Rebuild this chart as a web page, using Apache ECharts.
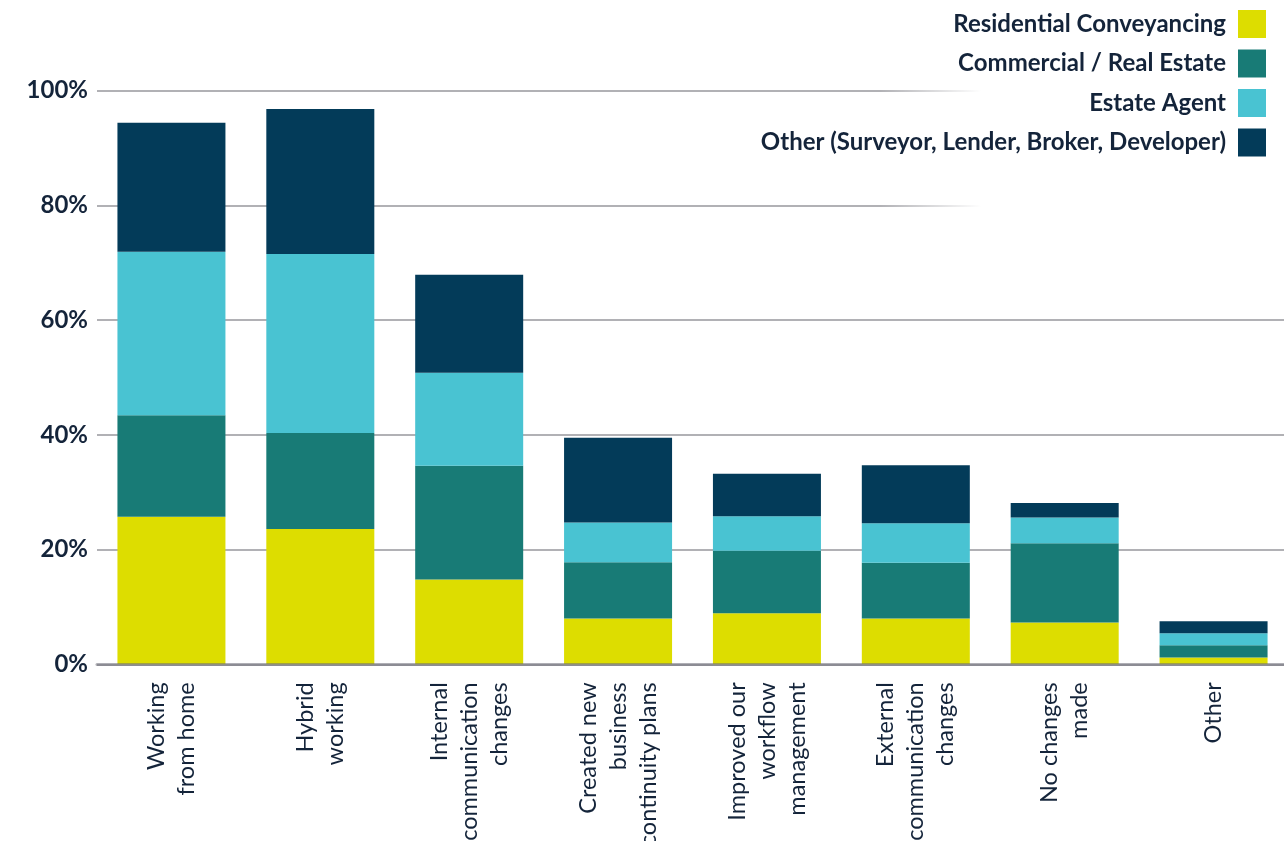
<!DOCTYPE html>
<html>
<head>
<meta charset="utf-8">
<script src="https://cdn.jsdelivr.net/npm/echarts@6/dist/echarts.min.js"></script>
<style>
  html, body { margin: 0; padding: 0; background: #ffffff; }
  #chart { width: 1284px; height: 841px; }
</style>
</head>
<body>
<div id="chart"></div>
<script>
// Changes made to working practices, share of respondents by sector (%)
const categories = [
  'Working\nfrom home',
  'Hybrid\nworking',
  'Internal\ncommunication\nchanges',
  'Created new\nbusiness\ncontinuity plans',
  'Improved our\nworkflow\nmanagement',
  'External\ncommunication\nchanges',
  'No changes\nmade',
  'Other'
];

const residentialConveyancing = [25.7, 23.6, 14.8, 8.0, 8.9, 8.0, 7.3, 1.2];
const commercialRealEstate    = [17.7, 16.7, 19.8, 9.8, 10.9, 9.7, 13.8, 2.1];
const estateAgent             = [28.5, 31.2, 16.2, 6.9, 6.0, 6.9, 4.5, 2.1];
const otherSectors            = [22.5, 25.3, 17.1, 14.8, 7.4, 10.1, 2.5, 2.1];

const seriesNames = [
  'Residential Conveyancing',
  'Commercial / Real Estate',
  'Estate Agent',
  'Other (Surveyor, Lender, Broker, Developer)'
];
const seriesColors = ['#dddd00', '#187b76', '#49c3d2', '#033b59'];
const seriesData = [residentialConveyancing, commercialRealEstate, estateAgent, otherSectors];

const yTicks = { min: 0, max: 100, interval: 20 };

const FONT = 'Lato, "Noto Sans", sans-serif';
const INK = '#14243a';

const chart = echarts.init(document.getElementById('chart'), null, { renderer: 'canvas' });

chart.setOption({
  backgroundColor: '#ffffff',
  animation: false,
  grid: {
    left: 97, top: 90.6, width: 1191, height: 573.7,
    containLabel: false,
    outerBoundsMode: 'none'
  },
  legend: {
    orient: 'vertical',
    right: 13,
    top: 5,
    align: 'right',
    icon: 'rect',
    itemWidth: 28,
    itemHeight: 28,
    itemGap: 11.5,
    z: 5,
    data: seriesNames,
    textStyle: {
      fontFamily: FONT,
      fontWeight: 'bold',
      fontSize: 24,
      color: INK,
      padding: [0, 7, 0, 0]
    }
  },
  // soft white panel behind the legend that fades the top gridlines out
  graphic: [{
    type: 'rect',
    z: 1,
    silent: true,
    shape: { x: 880, y: 78, width: 404, height: 140 },
    style: {
      fill: new echarts.graphic.LinearGradient(0, 0, 1, 0, [
        { offset: 0, color: 'rgba(255,255,255,0)' },
        { offset: 0.25, color: 'rgba(255,255,255,1)' },
        { offset: 1, color: 'rgba(255,255,255,1)' }
      ])
    }
  }],
  xAxis: {
    type: 'category',
    data: categories,
    z: 3,
    axisTick: { show: false },
    axisLine: { show: true, lineStyle: { color: 'rgba(110,110,120,0.55)', width: 3 } },
    axisLabel: {
      rotate: 90,
      interval: 0,
      margin: 18,
      align: 'right',
      fontFamily: FONT,
      fontSize: 23.5,
      lineHeight: 30,
      color: INK
    }
  },
  yAxis: {
    type: 'value',
    min: yTicks.min,
    max: yTicks.max,
    interval: yTicks.interval,
    z: 0,
    axisLine: { show: false },
    axisTick: { show: false },
    splitLine: { lineStyle: { color: '#b1b1b5', width: 2 } },
    axisLabel: {
      formatter: '{value}%',
      margin: 9,
      fontFamily: FONT,
      fontWeight: 'bold',
      fontSize: 24,
      color: INK
    }
  },
  series: seriesNames.map((name, i) => ({
    name: name,
    type: 'bar',
    stack: 'total',
    barWidth: 108,
    z: 2,
    itemStyle: { color: seriesColors[i] },
    data: seriesData[i]
  }))
});
</script>
</body>
</html>
